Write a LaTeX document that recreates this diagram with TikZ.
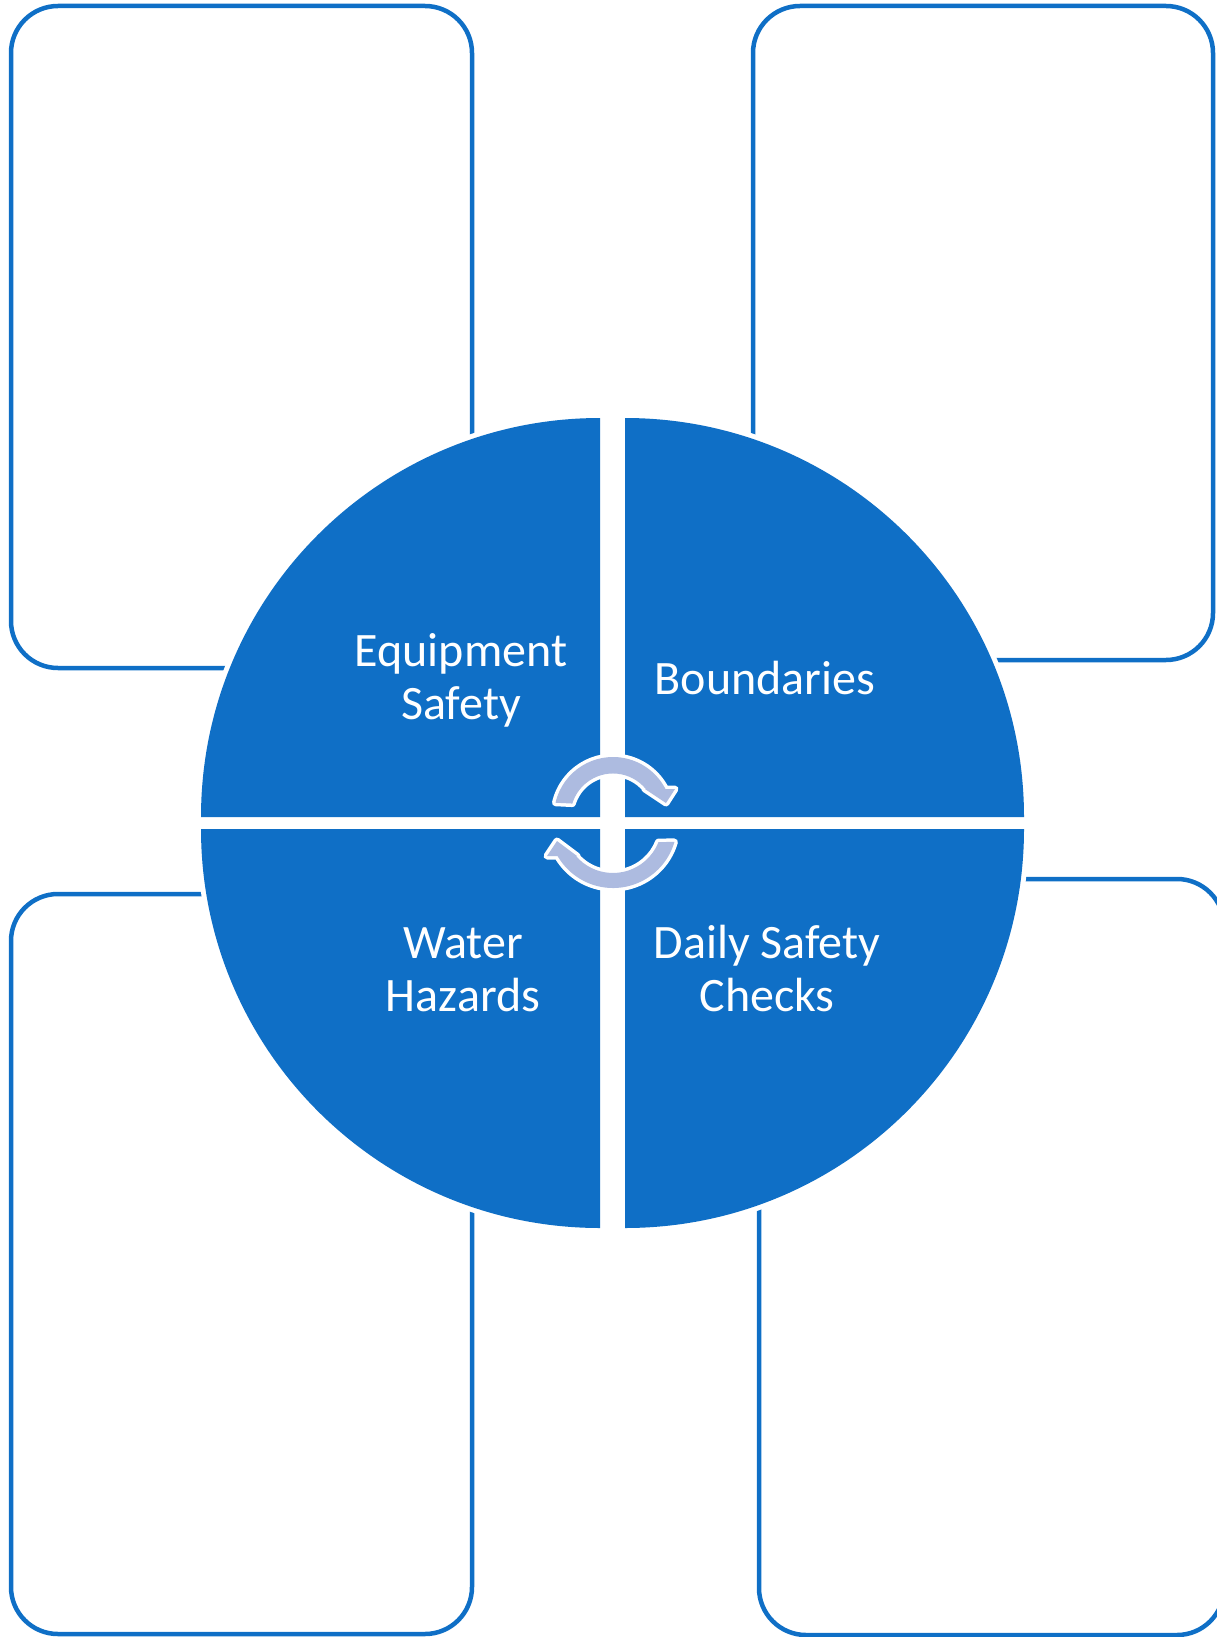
\documentclass[tikz,border=0pt]{standalone}
\usepackage{fontspec}
\setmainfont{Carlito}
\definecolor{cycblue}{RGB}{15,111,198}
\definecolor{cyclav}{RGB}{173,187,224}

\begin{document}
\begin{tikzpicture}[x=1pt,y=-1pt,
	card/.style={draw=cycblue,line width=4.5pt,rounded corners=47pt},
	quarter/.style={fill=cycblue,preaction={draw=white,line width=10pt}},
	turnarrow/.style={fill=cyclav,preaction={draw=white,line width=7pt,line join=round}},
	quadtext/.style={text=white,align=center,inner sep=0pt,font=\fontsize{48}{53}\selectfont}]
	\useasboundingbox (0,0) rectangle (1217,1637);
	% cards round the circle
	\draw[card] (11,6) rectangle (472,668);
	\draw[card] (753,6) rectangle (1213,660);
	\draw[card] (11,894) rectangle (472,1634);
	\draw[card] (759,879) rectangle (1224,1635);
	% quarters
	\path[quarter] (600,817) -- (201,817) arc[start angle=180,end angle=270,radius=399] -- cycle;
	\path[quarter] (625,817) -- (625,418) arc[start angle=270,end angle=360,radius=399] -- cycle;
	\path[quarter] (600,829) -- (201,829) arc[start angle=180,end angle=90,radius=399] -- cycle;
	\path[quarter] (625,829) -- (1024,829) arc[start angle=0,end angle=90,radius=399] -- cycle;
	% turning arrows
	\path[turnarrow] (613,816) ++(193:59) arc[start angle=193,end angle=332.8,radius=59]
		-- (675,789) -- (666,803) -- (645,789)
		-- (645.8,789) arc[start angle=320.6,end angle=197,radius=42.5] -- cycle;
	\path[turnarrow] (613,824) ++(16.3:64) arc[start angle=16.3,end angle=150,radius=64]
		-- (547,856) -- (557,841) -- (577,856)
		-- (575.9,856) arc[start angle=139.2,end angle=21.6,radius=49] -- cycle;
	% texts
	\node[quadtext] (eqp) at (461,680) {Equipment\\Safety};
	\node[quadtext,anchor=base] (bnd) at (765,694) {Boundaries};
	\node[quadtext] (wtr) at (463,970) {Water\\Hazards};
	\node[quadtext] (dsc) at (767,968.5) {Daily Safety\\Checks};
\end{tikzpicture}
\end{document}
